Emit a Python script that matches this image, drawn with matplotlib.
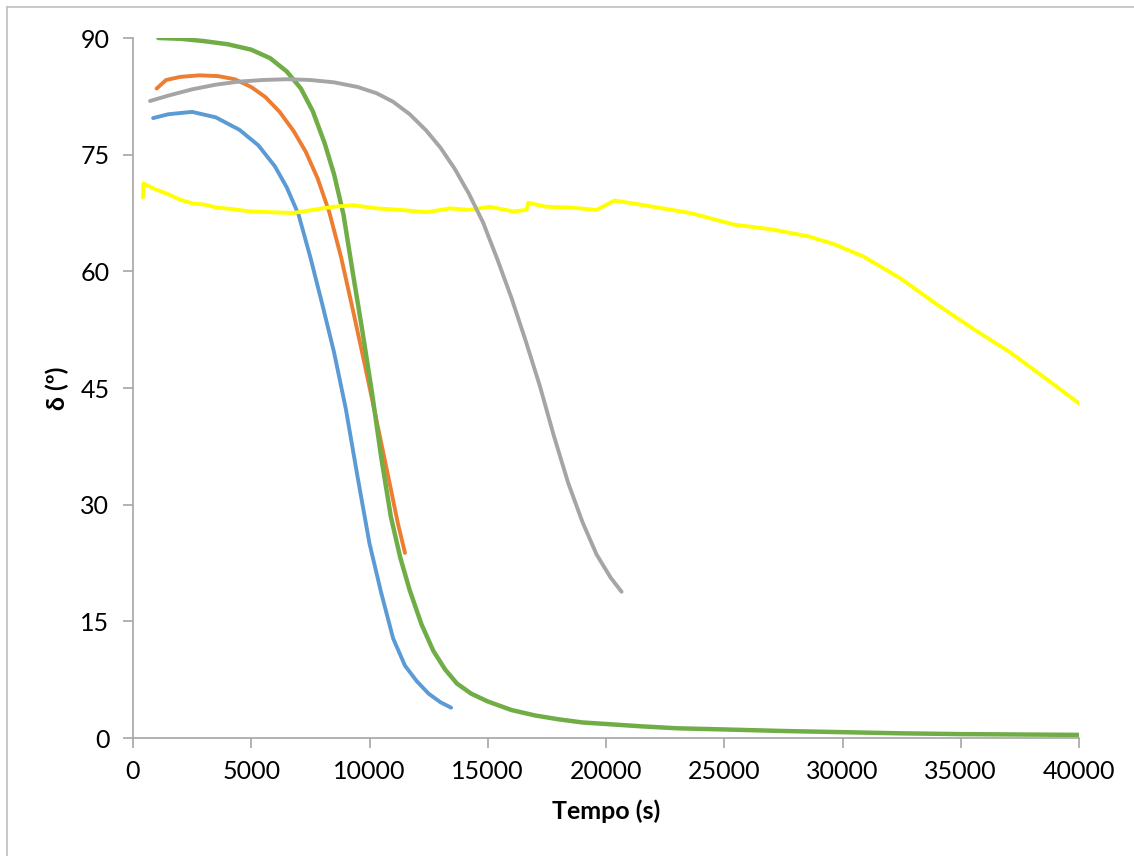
import matplotlib
matplotlib.use("Agg")
import matplotlib.pyplot as plt
from matplotlib.lines import Line2D

# Sample curves: time (s) and angle δ (º)
t_blue = [850, 1500, 2500, 3500, 4500, 5300, 6000, 6500, 7000, 7500, 8000, 8500, 9000,
          9500, 10000, 10500, 11000, 11500, 12000, 12500, 13000, 13450]
d_blue = [79.7, 80.2, 80.5, 79.8, 78.2, 76.2, 73.5, 70.8, 67.3, 61.8, 55.8, 49.6, 42.3,
          33.5, 25.0, 18.6, 12.8, 9.3, 7.3, 5.7, 4.6, 3.9]

t_orange = [1000, 1400, 2000, 2800, 3600, 4300, 5000, 5600, 6200, 6800, 7300, 7800,
            8300, 8800, 9300, 9800, 10300, 10800, 11200, 11500]
d_orange = [83.5, 84.6, 85.0, 85.2, 85.1, 84.7, 83.7, 82.4, 80.5, 78.0, 75.4, 72.0,
            67.6, 61.8, 55.0, 48.0, 40.8, 33.5, 27.6, 23.8]

t_green = [1070, 2000, 3000, 4000, 5000, 5800, 6500, 7100, 7600, 8100, 8500, 8900, 9300,
           9700, 10100, 10500, 10900, 11300, 11700, 12200, 12700, 13200, 13700, 14300,
           15000, 16000, 17000, 18000, 19000, 20000, 21500, 23000, 25000, 27500, 30000,
           32500, 35000, 37500, 40000]
d_green = [90.0, 89.9, 89.6, 89.2, 88.5, 87.4, 85.7, 83.5, 80.6, 76.5, 72.5, 67.3, 59.7,
           52.3, 44.5, 36.0, 28.5, 23.2, 19.0, 14.6, 11.2, 8.8, 7.0, 5.7,
           4.7, 3.6, 2.9, 2.4, 2.0, 1.8, 1.5, 1.25, 1.1, 0.9, 0.75,
           0.6, 0.5, 0.45, 0.4]

t_gray = [720, 1500, 2500, 3500, 4500, 5500, 6500, 7500, 8500, 9500, 10300, 11000, 11700,
          12400, 13000, 13600, 14200, 14800, 15400, 16000, 16600, 17200, 17800, 18400,
          19000, 19600, 20200, 20660]
d_gray = [81.9, 82.6, 83.4, 84.0, 84.4, 84.6, 84.7, 84.6, 84.3, 83.7, 82.9, 81.8, 80.2,
          78.1, 75.9, 73.2, 70.0, 66.3, 61.6, 56.6, 51.1, 45.3, 38.8, 32.8,
          27.8, 23.6, 20.6, 18.8]

t_yellow = [420, 440, 900, 1420, 2000, 2550, 3000, 3540, 4200, 4950, 5800, 6780, 7600,
            8470, 9310, 10300, 11290, 12420, 13400, 14200, 15090, 16080, 16640, 16710,
            17490, 18500, 19600, 20360, 21000, 22000, 23560, 25430, 26990, 28550, 29640,
            30890, 32450, 34010, 35580, 37130, 38690, 40010]
d_yellow = [69.5, 71.3, 70.6, 70.0, 69.2, 68.7, 68.6, 68.2, 68.0, 67.7, 67.6, 67.5, 67.9,
            68.3, 68.5, 68.1, 67.9, 67.6, 68.1, 67.9, 68.3, 67.7, 67.9, 68.8,
            68.3, 68.2, 67.9, 69.1, 68.8, 68.3, 67.5, 66.0, 65.4, 64.5, 63.5,
            61.9, 59.1, 55.7, 52.5, 49.5, 46.0, 43.0]

x_ticks = [0, 5000, 10000, 15000, 20000, 25000, 30000, 35000, 40000]
y_ticks = [0, 15, 30, 45, 60, 75, 90]

plt.rcParams['font.family'] = ['Lato', 'DejaVu Sans']

fig = plt.figure(figsize=(11.34, 8.56), dpi=100)
ax = fig.add_axes([133 / 1134, 1 - 738 / 856, (1079 - 133) / 1134, (738 - 38) / 856])

lw = 2.8
style = dict(solid_capstyle='round', solid_joinstyle='round')
ax.plot(t_blue, d_blue, color='#5B9BD5', lw=lw, zorder=2, **style)
ax.plot(t_orange, d_orange, color='#ED7D31', lw=lw, zorder=3, **style)
ax.plot(t_green, d_green, color='#70AD47', lw=3.2, zorder=4, **style)
ax.plot(t_yellow, d_yellow, color='#FFFF00', lw=lw, zorder=5, **style)
ax.plot(t_gray, d_gray, color='#A5A5A5', lw=lw, zorder=6, **style)

ax.set_xlim(0, 40000)
ax.set_ylim(0, 90)
ax.set_xticks(x_ticks)
ax.set_yticks(y_ticks)
ax.set_xticklabels([str(v) for v in x_ticks])
ax.set_yticklabels([str(v) for v in y_ticks])

for side in ('top', 'right'):
    ax.spines[side].set_visible(False)
for side in ('left', 'bottom'):
    ax.spines[side].set_color('#A6A6A6')
    ax.spines[side].set_linewidth(1.2)
    ax.spines[side].set_zorder(1)

ax.tick_params(axis='both', direction='out', length=7, width=1.2, color='#A6A6A6',
               labelsize=18, labelcolor='black')
ax.tick_params(axis='x', pad=9)
ax.tick_params(axis='y', pad=10)

ax.set_xlabel('Tempo (s)', fontsize=18, fontweight='bold', labelpad=12)
ax.set_ylabel('δ (º)', fontsize=18, fontweight='bold', labelpad=8)

# Chart area frame (top and left edges)
x0, y0 = 7 / 1134, 1 - 7 / 856
fig.add_artist(Line2D([x0, 1.0], [y0, y0], color='#BFBFBF', lw=1.2, transform=fig.transFigure))
fig.add_artist(Line2D([x0, x0], [0.0, y0], color='#BFBFBF', lw=1.2, transform=fig.transFigure))

fig.savefig('out.png', dpi=100, facecolor='white')
